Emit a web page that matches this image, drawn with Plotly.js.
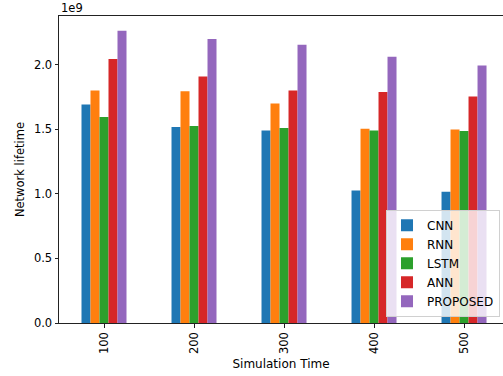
<!DOCTYPE html>
<html>
<head>
<meta charset="utf-8">
<script src="https://cdn.plot.ly/plotly-3.0.1.min.js"></script>
<style>html,body{margin:0;padding:0;background:#fff;overflow:hidden;}#chart{width:503px;height:376px;}</style>
</head>
<body>
<div id="chart"></div>
<script>
var categories = ["100", "200", "300", "400", "500"];
var seriesNames = ["CNN", "RNN", "LSTM", "ANN", "PROPOSED"];
var cnn = [1.693e9, 1.518e9, 1.491e9, 1.027e9, 1.017e9];
var rnn = [1.800e9, 1.796e9, 1.700e9, 1.504e9, 1.499e9];
var lstm = [1.595e9, 1.525e9, 1.510e9, 1.491e9, 1.487e9];
var ann = [2.044e9, 1.909e9, 1.801e9, 1.789e9, 1.754e9];
var proposed = [2.263e9, 2.199e9, 2.155e9, 2.062e9, 1.995e9];
var colors = ["#1f77b4", "#ff7f0e", "#2ca02c", "#d62728", "#9467bd"];
var yTickVals = [0, 0.5e9, 1.0e9, 1.5e9, 2.0e9];
var yTickText = ["0.0", "0.5", "1.0", "1.5", "2.0"];

var allSeries = [cnn, rnn, lstm, ann, proposed];
var traces = allSeries.map(function (vals, i) {
  return {
    type: "bar",
    name: seriesNames[i],
    x: categories,
    y: vals,
    marker: { color: colors[i], line: { width: 0 } },
    hoverinfo: "skip"
  };
});

var font = "DejaVu Sans, sans-serif";
var layout = {
  width: 503,
  height: 376,
  margin: { l: 59, r: 0, t: 16, b: 53 },
  paper_bgcolor: "#fff",
  plot_bgcolor: "#fff",
  barmode: "group",
  bargap: 0.5,
  bargroupgap: 0,
  font: { family: font, size: 11.5, color: "#000" },
  xaxis: {
    type: "category",
    range: [-0.5, 4.433],
    showgrid: false,
    zeroline: false,
    showline: true,
    mirror: true,
    linecolor: "#222",
    linewidth: 1,
    ticks: "outside",
    ticklen: 3.5,
    tickwidth: 1,
    tickcolor: "#222",
    tickangle: -90,
    tickfont: { family: font, size: 11.5, color: "#000" },
    title: { text: "Simulation Time", font: { family: font, size: 12, color: "#000" }, standoff: 6 }
  },
  yaxis: {
    range: [0, 2.378e9],
    showgrid: false,
    zeroline: false,
    showline: true,
    linecolor: "#222",
    linewidth: 1,
    ticks: "outside",
    ticklen: 3.5,
    tickwidth: 1,
    tickcolor: "#222",
    tickmode: "array",
    tickvals: yTickVals,
    ticktext: yTickText,
    tickfont: { family: font, size: 11.5, color: "#000" },
    title: { text: "Network lifetime", font: { family: font, size: 11.5, color: "#000" }, standoff: 6 }
  },
  legend: {
    x: 0.7365,
    y: 0.02,
    xanchor: "left",
    yanchor: "bottom",
    bgcolor: "rgba(255,255,255,0.8)",
    bordercolor: "#d0d0d0",
    borderwidth: 1,
    font: { family: font, size: 12, color: "#000" },
    tracegroupgap: 0
  },
  annotations: [{
    text: "1e9",
    xref: "paper", yref: "paper",
    x: 0, y: 1,
    xanchor: "left", yanchor: "bottom",
    showarrow: false,
    font: { family: font, size: 11.5, color: "#000" },
    yshift: -1
  }]
};

Plotly.newPlot("chart", traces, layout, { displayModeBar: false, staticPlot: true });
</script>
</body>
</html>
